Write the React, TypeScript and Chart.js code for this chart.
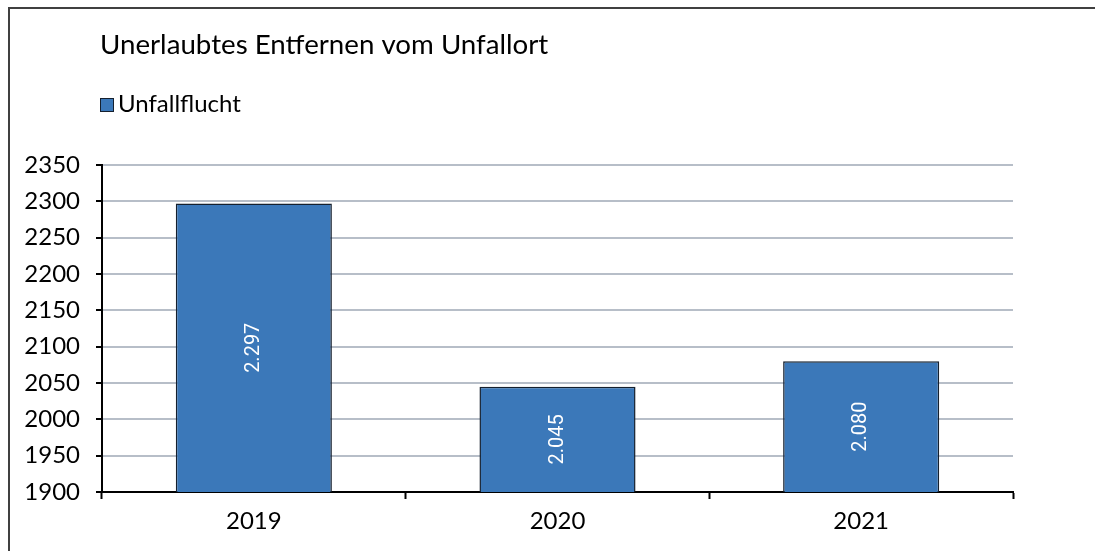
import React, { useEffect, useRef } from "react";
import { Chart, registerables } from "chart.js";

Chart.register(...registerables);

const titleText = "Unerlaubtes Entfernen vom Unfallort";
const seriesLabel = "Unfallflucht";
const categories = ["2019", "2020", "2021"];
const values = [2297, 2045, 2080];
const yMin = 1900;
const yMax = 2350;
const yStep = 50;

const BAR_COLOR = "#3b78b9";
const BAR_BORDER = "#15202e";
const GRID_COLOR = "#b7bec8";
const FONT = "Lato";

const fmt = (v: number) => String(v).replace(/\B(?=(\d{3})+(?!\d))/g, ".");

const decorPlugin = {
  id: "decor",
  beforeDraw(chart: any) {
    const ctx = chart.ctx;
    ctx.save();
    ctx.fillStyle = "#ffffff";
    ctx.fillRect(0, 0, chart.width, chart.height);
    ctx.strokeStyle = "#404040";
    ctx.lineWidth = 2;
    ctx.beginPath();
    ctx.moveTo(9, chart.height);
    ctx.lineTo(9, 8);
    ctx.lineTo(chart.width, 8);
    ctx.stroke();
    ctx.restore();
  },
  afterDraw(chart: any) {
    const ctx = chart.ctx;
    ctx.save();
    ctx.fillStyle = "#000000";
    ctx.textBaseline = "alphabetic";
    ctx.textAlign = "left";
    ctx.font = `400 27.7px ${FONT}`;
    ctx.fillText(titleText, 100, 54);
    ctx.fillStyle = BAR_COLOR;
    ctx.fillRect(100, 98, 14, 14);
    ctx.strokeStyle = BAR_BORDER;
    ctx.lineWidth = 1;
    ctx.strokeRect(100.5, 98.5, 13, 13);
    ctx.fillStyle = "#000000";
    ctx.font = `400 24px ${FONT}`;
    ctx.fillText(seriesLabel, 118, 112);
    ctx.restore();

    const xs = chart.scales.x;
    const ys = chart.scales.y;
    values.forEach((v, i) => {
      const x = xs.getPixelForValue(i);
      const top = ys.getPixelForValue(v);
      const base = ys.getPixelForValue(yMin);
      ctx.save();
      ctx.translate(x, (top + base) / 2);
      ctx.rotate(-Math.PI / 2);
      ctx.font = "400 20px Roboto";
      ctx.fillStyle = "#ffffff";
      ctx.textAlign = "center";
      ctx.textBaseline = "middle";
      ctx.fillText(fmt(v), 0, 0);
      ctx.restore();
    });
  },
};

export default function App() {
  const ref = useRef<HTMLCanvasElement | null>(null);
  useEffect(() => {
    if (!ref.current) return;
    const chart = new Chart(ref.current, {
      type: "bar",
      data: {
        labels: categories,
        datasets: [
          {
            label: seriesLabel,
            data: values,
            backgroundColor: BAR_COLOR,
            borderColor: BAR_BORDER,
            borderWidth: 1.5,
            borderSkipped: false,
            categoryPercentage: 1,
            barPercentage: 0.514,
          },
        ],
      },
      options: {
        animation: false,
        responsive: true,
        maintainAspectRatio: false,
        layout: { padding: { top: 165, right: 82, left: 0, bottom: 0 } },
        plugins: {
          legend: { display: false },
          title: { display: false },
          tooltip: { enabled: false },
        },
        scales: {
          x: {
            offset: true,
            grid: {
              display: true,
              offset: true,
              drawOnChartArea: false,
              tickLength: 7,
              tickColor: "#000000",
              tickWidth: 2,
            },
            border: { display: true, color: "#000000", width: 2 },
            ticks: {
              color: "#000000",
              font: { family: FONT, size: 24 },
              padding: 8,
            },
            afterFit: (s: any) => {
              s.height = 59;
            },
          },
          y: {
            min: yMin,
            max: yMax,
            ticks: {
              stepSize: yStep,
              color: "#000000",
              font: { family: FONT, size: 24 },
              padding: 16,
              callback: (v: any) => String(v),
            },
            grid: {
              color: GRID_COLOR,
              lineWidth: 2,
              tickLength: 6,
              tickColor: "#000000",
              tickWidth: 2,
            },
            border: { display: true, color: "#000000", width: 2 },
            afterFit: (s: any) => {
              s.width = 102;
            },
          },
        },
      },
      plugins: [decorPlugin],
    });
    return () => chart.destroy();
  }, []);
  return (
    <div style={{ position: "absolute", left: 0, top: 0, width: 1095, height: 551 }}>
      <canvas ref={ref} />
    </div>
  );
}
